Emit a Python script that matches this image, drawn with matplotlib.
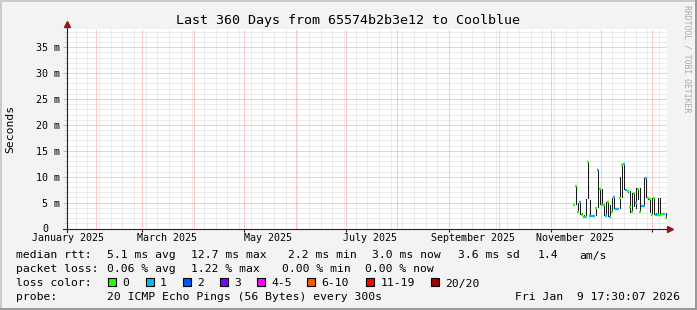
import datetime as dt
import matplotlib
matplotlib.use('Agg')
import matplotlib.pyplot as plt
from matplotlib.patches import Rectangle
from matplotlib.transforms import offset_copy

W, H = 697, 310
MONO = 'DejaVu Sans Mono'

# time window: last 360 days ending at the graph timestamp
end = dt.datetime(2026, 1, 9, 17, 30, 7)
start = end - dt.timedelta(days=360)

def day(d):
    return (d - start).total_seconds() / 86400.0

# ---- data, days since window start, values in ms
days = [303.6, 304.8, 306.0, 307.2, 308.4, 309.6, 310.8, 312.0, 313.2, 314.4,
        315.6, 316.8, 318.0, 319.2, 320.4, 321.6, 322.8, 324.0, 325.2, 326.4,
        327.6, 328.8, 330.0, 331.2, 332.4, 333.6, 334.8, 336.0, 337.2, 338.4,
        339.6, 340.8, 342.0, 343.2, 344.4, 345.6, 346.8, 348.0, 349.2, 350.4,
        351.6, 352.8, 354.0, 355.2, 356.4, 357.6, 358.8]
median_ms = [4.6, 8.2, 3.1, 5.2, 2.7, 2.2, 2.3, 12.9, 2.4, 2.4,
             2.5, 3.9, 11.3, 7.7, 4.5, 4.5, 2.4, 5.1, 2.2, 3.2,
             6.0, 3.7, 3.7, 5.9, 12.2, 12.5, 7.4, 7.2, 4.2, 3.2,
             6.8, 5.0, 7.7, 3.2, 4.4, 4.4, 9.8, 5.9, 5.7, 2.6,
             5.9, 2.7, 2.6, 2.6, 2.8, 2.8, 2.0]
smoke_lo = [4.3, 4.6, 2.9, 2.6, 2.5, 2.0, 2.1, 5.6, 2.2, 2.3,
            2.3, 2.5, 4.0, 4.5, 4.3, 2.4, 2.2, 2.2, 2.1, 3.0,
            3.7, 3.5, 3.5, 3.8, 5.9, 7.4, 7.2, 6.9, 3.0, 3.0,
            4.2, 3.8, 5.5, 3.0, 4.2, 4.2, 5.9, 5.5, 2.9, 2.4,
            2.6, 2.5, 2.5, 2.4, 2.6, 2.6, 1.9]
smoke_hi = [4.8, 8.2, 5.0, 5.3, 3.0, 2.6, 5.6, 12.9, 5.5, 2.6,
            2.7, 4.0, 11.3, 7.9, 7.7, 4.6, 5.1, 5.2, 4.6, 5.8,
            6.0, 3.9, 3.9, 10.0, 12.2, 12.5, 7.6, 7.4, 7.3, 6.8,
            6.9, 7.9, 7.8, 7.8, 4.6, 9.8, 9.8, 6.1, 5.9, 5.9,
            6.0, 2.9, 5.9, 5.9, 3.0, 3.0, 2.9]
loss_idx = [0, 0, 0, 1, 0, 1, 0, 0, 1, 1,
            1, 0, 1, 0, 0, 0, 1, 0, 1, 0,
            1, 1, 1, 0, 0, 1, 1, 0, 0, 0,
            0, 1, 0, 0, 1, 1, 1, 0, 0, 0,
            0, 1, 0, 0, 0, 1, 0]

loss_labels = ['0', '1', '2', '3', '4-5', '6-10', '11-19', '20/20']
loss_colors = ['#26ff00', '#00b8ff', '#0059ff', '#7e00ff', '#ff00ff',
               '#ff5500', '#ff0000', '#a10000']

ytick_vals = [0, 5, 10, 15, 20, 25, 30, 35]
ytick_text = ['0', '5 m', '10 m', '15 m', '20 m', '25 m', '30 m', '35 m']
month_labels = ['January 2025', 'March 2025', 'May 2025', 'July 2025',
                'September 2025', 'November 2025']
label_months = [(2025, 1), (2025, 3), (2025, 5), (2025, 7), (2025, 9), (2025, 11)]

legend_rows = [
    [('median rtt:', 16), ('5.1 ms avg', 107), ('12.7 ms max', 191.5),
     ('2.2 ms min', 288.5), ('3.0 ms now', 372.3), ('3.6 ms sd', 458.3),
     ('1.4', 537.3), ('am/s', 579.3)],
    [('packet loss:', 16), ('0.06 % avg', 107), ('1.22 % max', 191.5),
     ('0.00 % min', 281.5), ('0.00 % now', 365)],
]
box_x = [108.3, 145.7, 182.7, 220, 256.7, 306.7, 366, 430.7]

# ---- figure
fig = plt.figure(figsize=(W / 100, H / 100), dpi=100, facecolor='#f3f3f3')

def fx(x):
    return x / W

def fy(y):
    return 1 - y / H

# 3d-ish frame
fig.add_artist(Rectangle((0, fy(2)), 1, 2 / H, transform=fig.transFigure, color='#cbcbcb', lw=0))
fig.add_artist(Rectangle((0, 0), 2 / W, 1, transform=fig.transFigure, color='#cbcbcb', lw=0))
fig.add_artist(Rectangle((0, 0), 1, 2 / H, transform=fig.transFigure, color='#999999', lw=0))
fig.add_artist(Rectangle((fx(695), 0), 2 / W, 1, transform=fig.transFigure, color='#999999', lw=0))

pl, pr, pt, pb = 67, 667, 28.5, 228.5
ax = fig.add_axes([fx(pl), fy(pb), (pr - pl) / W, (pb - pt) / H])
ax.set_facecolor('white')
ax.set_xlim(0, 360)
ax.set_ylim(0, (pb - pt) / 5.18)
for s in ax.spines.values():
    s.set_visible(False)

# grid
month_starts = [day(dt.datetime(2025, m, 1)) for m in range(2, 13)] + [day(dt.datetime(2026, 1, 1))]
mondays = []
d = dt.datetime(2025, 1, 20)
while d < end:
    mondays.append(day(d))
    d += dt.timedelta(days=7)
ax.set_xticks(month_starts)
ax.set_xticks(mondays, minor=True)
ax.set_yticks(ytick_vals)
ax.set_yticks(range(0, 39), minor=True)
ax.tick_params(axis='x', which='both', length=0, labelbottom=False)
ax.tick_params(axis='y', which='major', length=3, width=0.7, color='#ff9090', labelleft=False)
ax.tick_params(axis='y', which='minor', length=2, width=0.7, color='#d8d8d8')
ax.grid(which='minor', color='#d8d8d8', lw=0.72, ls=(0, (1, 1)))
ax.grid(which='major', color='#ff9090', lw=0.72, ls=(0, (1, 1)))
ax.set_axisbelow(True)

# smoke and median
ax.bar([t + 0.6 for t in days], [h - l for h, l in zip(smoke_hi, smoke_lo)],
       bottom=smoke_lo, width=0.6, color='#1a1a1a', lw=0, zorder=3)
ax.hlines(median_ms, days, [t + 1.2 for t in days],
          colors=[loss_colors[i] for i in loss_idx], lw=1.7, zorder=4)

# axes with arrows
ax.plot([0, 0], [-0.015, 1.0225], transform=ax.transAxes, color='#202020', lw=0.8, clip_on=False, zorder=5)
ax.plot([-0.006, 1.0058], [0, 0], transform=ax.transAxes, color='#202020', lw=0.8, clip_on=False, zorder=5)
ax.plot([0], [1.0225], marker='^', ms=4, color='#8c1c1c', transform=ax.transAxes, clip_on=False, zorder=6)
ax.plot([1.0058], [0], marker='>', ms=4, color='#8c1c1c', transform=ax.transAxes, clip_on=False, zorder=6)

# x tick marks every two months
tick_days = [day(dt.datetime(y, m, 1)) for y, m in [(2025, 3), (2025, 5), (2025, 7), (2025, 9), (2025, 11), (2026, 1)]]
ax.vlines(tick_days, -3 / 200, 0, transform=ax.get_xaxis_transform(), color='#202020', lw=0.8, clip_on=False)

# tick labels
for v, t in zip(ytick_vals, ytick_text):
    off = -7 if v else -19
    tr = offset_copy(ax.get_yaxis_transform(), fig=fig, x=off, y=0, units='dots')
    ax.text(0, v, t, transform=tr, ha='right', va='center_baseline', family=MONO, fontsize=7.2)
xtr = offset_copy(ax.get_xaxis_transform(), fig=fig, x=1, y=-12.5, units='dots')
for (y, m), t in zip(label_months, month_labels):
    ax.text(day(dt.datetime(y, m, 15)), 0, t, transform=xtr, ha='center', va='baseline',
            family=MONO, fontsize=7.2)

# titles
fig.text(fx(347.5), fy(24), 'Last 360 Days from 65574b2b3e12 to Coolblue',
         ha='center', va='baseline', family=MONO, fontsize=9.6)
fig.text(fx(10), fy(128.5), 'Seconds', rotation=90, ha='center', va='center',
         family=MONO, fontsize=8.2)
fig.text(fx(687), fy(59), 'RRDTOOL / TOBI OETIKER', rotation=270, ha='center', va='center',
         family=MONO, fontsize=5.9, color='#aaaaaa')

# legend
for row, base in zip(legend_rows, [258.5, 272.5]):
    for t, x in row:
        fig.text(fx(x), fy(base), t, ha='left', va='baseline', family=MONO, fontsize=8.2)
fig.text(fx(16), fy(286.5), 'loss color:', ha='left', va='baseline', family=MONO, fontsize=8.2)
for x, lab, c in zip(box_x, loss_labels, loss_colors):
    fig.add_artist(Rectangle((fx(x), fy(285.5)), 8 / W, 8 / H, transform=fig.transFigure,
                             facecolor=c, edgecolor='black', lw=0.8))
    fig.text(fx(x + 14.3), fy(286.5), lab, ha='left', va='baseline', family=MONO, fontsize=8.2)
fig.text(fx(16), fy(300.5), 'probe:', ha='left', va='baseline', family=MONO, fontsize=8.2)
fig.text(fx(107), fy(300.5), '20 ICMP Echo Pings (56 Bytes) every 300s',
         ha='left', va='baseline', family=MONO, fontsize=8.2)
fig.text(fx(680), fy(300.5), 'Fri Jan  9 17:30:07 2026', ha='right', va='baseline',
         family=MONO, fontsize=8.2)

fig.savefig('out.png', dpi=100, facecolor=fig.get_facecolor())
